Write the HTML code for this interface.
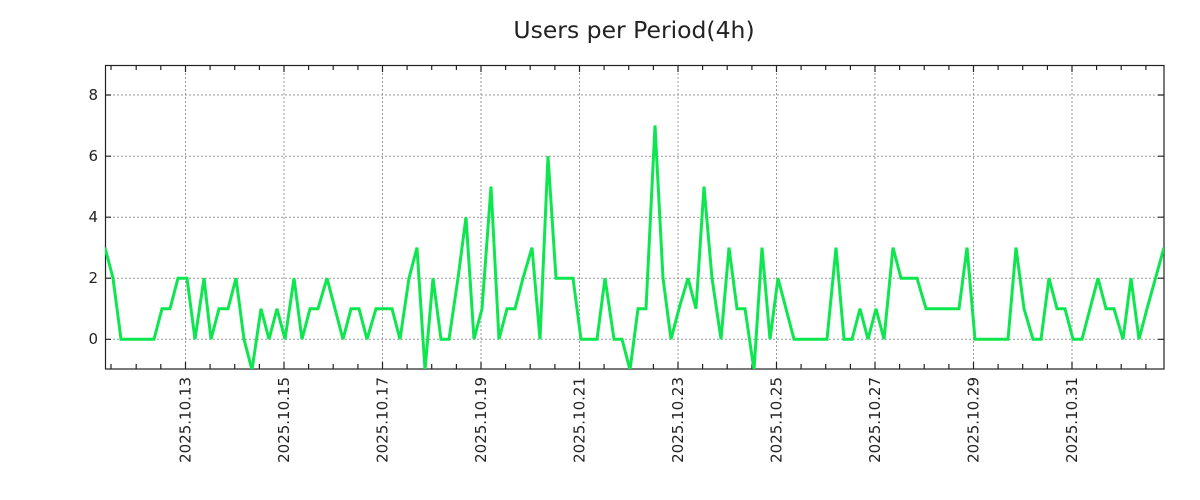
<!DOCTYPE html>
<html><head><meta charset="utf-8"><style>
html,body{margin:0;padding:0;background:#fff;}
svg{display:block;font-family:"DejaVu Sans","Liberation Sans",sans-serif;}
</style></head><body>
<svg width="1200" height="500" viewBox="0 0 1200 500" xmlns="http://www.w3.org/2000/svg">
<text x="634" y="38" font-size="23.5" text-anchor="middle" fill="#222">Users per Period(4h)</text>
<g stroke="#999" stroke-width="1" stroke-dasharray="2,2">
<line x1="105" x2="1164" y1="95" y2="95"/><line x1="105" x2="1164" y1="156.2" y2="156.2"/><line x1="105" x2="1164" y1="217.2" y2="217.2"/><line x1="105" x2="1164" y1="278.2" y2="278.2"/><line x1="105" x2="1164" y1="339.3" y2="339.3"/>
<line y1="65" y2="369" x1="185.5" x2="185.5"/><line y1="65" y2="369" x1="284" x2="284"/><line y1="65" y2="369" x1="382.5" x2="382.5"/><line y1="65" y2="369" x1="481" x2="481"/><line y1="65" y2="369" x1="579.5" x2="579.5"/><line y1="65" y2="369" x1="678" x2="678"/><line y1="65" y2="369" x1="776.5" x2="776.5"/><line y1="65" y2="369" x1="875" x2="875"/><line y1="65" y2="369" x1="973.5" x2="973.5"/><line y1="65" y2="369" x1="1072" x2="1072"/>
</g>
<g stroke="#222" stroke-width="1.2">
<path d="M111,369v-5M111,65v5M136.2,369v-5M136.2,65v5M160.8,369v-5M160.8,65v5M185.5,369v-7M185.5,65v7M210.1,369v-5M210.1,65v5M234.7,369v-5M234.7,65v5M259.4,369v-5M259.4,65v5M284,369v-7M284,65v7M308.6,369v-5M308.6,65v5M333.2,369v-5M333.2,65v5M357.9,369v-5M357.9,65v5M382.5,369v-7M382.5,65v7M407.1,369v-5M407.1,65v5M431.7,369v-5M431.7,65v5M456.4,369v-5M456.4,65v5M481,369v-7M481,65v7M505.6,369v-5M505.6,65v5M530.2,369v-5M530.2,65v5M554.9,369v-5M554.9,65v5M579.5,369v-7M579.5,65v7M604.1,369v-5M604.1,65v5M628.7,369v-5M628.7,65v5M653.4,369v-5M653.4,65v5M678,369v-7M678,65v7M702.6,369v-5M702.6,65v5M727.2,369v-5M727.2,65v5M751.9,369v-5M751.9,65v5M776.5,369v-7M776.5,65v7M801.1,369v-5M801.1,65v5M825.7,369v-5M825.7,65v5M850.4,369v-5M850.4,65v5M875,369v-7M875,65v7M899.6,369v-5M899.6,65v5M924.2,369v-5M924.2,65v5M948.9,369v-5M948.9,65v5M973.5,369v-7M973.5,65v7M998.1,369v-5M998.1,65v5M1022.7,369v-5M1022.7,65v5M1047.4,369v-5M1047.4,65v5M1072,369v-7M1072,65v7M1096.6,369v-5M1096.6,65v5M1121.2,369v-5M1121.2,65v5M1145.9,369v-5M1145.9,65v5M105,95h6M1164,95h-6M105,156.2h6M1164,156.2h-6M105,217.2h6M1164,217.2h-6M105,278.2h6M1164,278.2h-6M105,339.3h6M1164,339.3h-6" fill="none"/>
</g>
<rect x="105.5" y="65.5" width="1058.5" height="303.5" fill="none" stroke="#222" stroke-width="1.2"/>
<g font-size="15" fill="#222" text-anchor="end">
<text x="98" y="100">8</text><text x="98" y="161">6</text><text x="98" y="222">4</text><text x="98" y="283">2</text><text x="98" y="344">0</text>
</g>
<g font-size="15" fill="#222" text-anchor="end">
<text transform="translate(190.5,377) rotate(-90)">2025.10.13</text>
<text transform="translate(289,377) rotate(-90)">2025.10.15</text>
<text transform="translate(387.5,377) rotate(-90)">2025.10.17</text>
<text transform="translate(486,377) rotate(-90)">2025.10.19</text>
<text transform="translate(584.5,377) rotate(-90)">2025.10.21</text>
<text transform="translate(683,377) rotate(-90)">2025.10.23</text>
<text transform="translate(781.5,377) rotate(-90)">2025.10.25</text>
<text transform="translate(880,377) rotate(-90)">2025.10.27</text>
<text transform="translate(978.5,377) rotate(-90)">2025.10.29</text>
<text transform="translate(1077,377) rotate(-90)">2025.10.31</text>
</g>
<svg x="105" y="65" width="1059" height="304" overflow="hidden">
<g transform="translate(-105,-65)">
<polyline fill="none" stroke="#0ee64f" stroke-width="3" stroke-linejoin="miter" stroke-miterlimit="2" points="
105,247.6 113,278.2 121,339.3 154,339.3 162,308.7 170,308.7 178,278.2 187,278.2 195,339.3 204,278.2 211,339.3 219,308.7 228,308.7 236,278.2 244,339.3 252,369.9 261,308.7 269,339.3 277,308.7 285,339.3 294,278.2 302,339.3 310,308.7 318,308.7 327,278.2 335,308.7 343,339.3 351,308.7 359,308.7 367,339.3 376,308.7 392,308.7 400,339.3 409,278.2 417,247.6 425,369.9 433,278.2 441,339.3 449,339.3 458,278.2 466,217.2 474,339.3 482,308.7 491,186.6 499,339.3 507,308.7 515,308.7 523,278.2 532,247.6 540,339.3 548,156.2 556,278.2 573,278.2 581,339.3 597,339.3 605,278.2 614,339.3 622,339.3 630,369.9 638,308.7 646,308.7 655,125.5 663,278.2 671,339.3 679,308.7 688,278.2 696,308.7 704,186.6 712,278.2 721,339.3 729,247.6 737,308.7 745,308.7 754,369.9 762,247.6 770,339.3 778,278.2 786,308.7 794,339.3 827,339.3 836,247.6 844,339.3 852,339.3 860,308.7 868,339.3 876,308.7 884,339.3 893,247.6 901,278.2 917,278.2 926,308.7 959,308.7 967,247.6 975,339.3 1008,339.3 1016,247.6 1024,308.7 1033,339.3 1041,339.3 1049,278.2 1057,308.7 1065,308.7 1073,339.3 1082,339.3 1090,308.7 1098,278.2 1106,308.7 1114,308.7 1123,339.3 1131,278.2 1139,339.3 1147,308.7 1164,247.6"/>
</g>
</svg>
</svg>
</body></html>
